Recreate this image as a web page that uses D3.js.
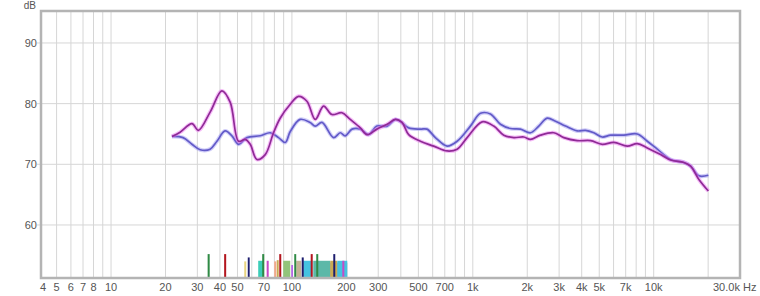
<!DOCTYPE html>
<html>
<head>
<meta charset="utf-8">
<script src="https://cdn.jsdelivr.net/npm/d3@7"></script>
<style>
  body { margin: 0; background: #fff; }
  text { font-family: "Liberation Sans", Arial, sans-serif; fill: #555; }
</style>
</head>
<body>
<div class="chart"></div>
<script>

// DATA ------------------------------

// frequency response, purple curve (Hz, dB)
const purpleFreq = [21.7, 24.1, 28.0, 30.4, 35.3, 41.0, 45.6, 50.7, 55.1, 58.8, 64.0, 71.2, 79.1, 86.1, 97.9,
  108.8, 121, 134.6, 149.6, 166.4, 189, 210, 239, 260, 295, 336, 373, 406, 442, 513, 608, 721, 819, 930,
  1126, 1305, 1483, 1684, 1913, 2084, 2366, 2804, 3184, 3778, 4477, 5195, 6025, 7145, 8110, 9218,
  10914, 12400, 14690, 16000, 17780, 20050];
const purpleDb = [74.6, 75.3, 76.7, 75.6, 78.6, 82.1, 80.2, 73.8, 74.1, 73.3, 70.8, 71.6, 75.2, 77.6, 79.9,
  81.2, 80.4, 77.4, 79.6, 78.2, 78.5, 77.4, 76.0, 74.9, 75.8, 76.6, 77.4, 76.9, 74.9, 73.8, 73.0, 72.2, 72.5, 74.4,
  77.0, 76.3, 74.8, 74.4, 74.5, 74.1, 74.8, 75.2, 74.4, 73.9, 73.9, 73.3, 73.6, 73.0, 73.4, 72.7,
  71.6, 70.7, 70.3, 69.7, 67.5, 65.6];

// frequency response, blue curve (Hz, dB)
const blueFreq = [21.7, 25.0, 28.0, 31.1, 35.3, 38.5, 42.7, 46.6, 50.7, 56.4, 66.8, 75.9, 84.3, 91.8, 97.9,
  111, 126, 134.6, 146.6, 170, 185, 197, 215, 239, 265, 295, 336, 373, 397, 442, 513, 558, 621, 721, 819,
  970, 1102, 1251, 1421, 1615, 1834, 2084, 2316, 2577, 2865, 3254, 3778, 4198, 4667, 5195, 5775, 6839,
  8110, 9218, 10470, 12400, 14690, 16000, 17780, 20050];
const blueDb = [74.6, 74.4, 73.3, 72.4, 72.5, 73.8, 75.5, 74.7, 73.3, 74.4, 74.7, 75.2, 74.4, 73.6, 75.4,
  77.4, 76.9, 76.3, 76.9, 74.4, 75.2, 74.7, 75.8, 75.8, 74.9, 76.3, 76.3, 77.4, 77.1, 76.0, 75.8, 75.8, 74.4, 73.0, 73.8,
  76.3, 78.4, 78.3, 76.6, 75.9, 75.8, 75.2, 76.3, 77.6, 77.1, 76.3, 75.5, 75.6, 75.2, 74.5, 74.8, 74.8,
  75.0, 73.8, 72.5, 70.8, 70.3, 69.7, 68.1, 68.2];

// room mode markers: start Hz, end Hz, top level dB, colour
const modeStart = [150, 131.2, 115.5, 89.5, 65.1, 162.9, 178.2, 105.6, 54.5, 57.0, 68.5, 72.5, 79.8, 82.4, 85.1,
  99.1, 103, 113.3, 127, 136.3, 169.3, 189.9, 34.2, 42.2];
const modeEnd   = [202.3, 162.9, 129.5, 97.9, 69.4, 178.2, 202.3, 112.6, 55.9, 58.4, 70.3, 74.4, 81.9, 84.5, 87.3,
  101, 105.6, 116.2, 130.3, 139.8, 173.6, 194.8, 35.1, 43.3];
const modeTop   = [53.8, 54.1, 54.1, 54.1, 54.1, 54.1, 54.1, 54.1, 54.0, 54.65, 55.2, 54.1, 54.0, 54.2, 55.2,
  53.4, 55.2, 54.65, 55.2, 55.2, 55.2, 54.1, 55.2, 55.2];
const modeColor = ["#a3a3a3", "#5cb8a8", "#45c3e0", "#92c47a", "#3ccdb8", "#c9ab55", "#45c3e0", "#c4b396", "#e8d480", "#1d1d6e",
  "#2f8a45", "#c64bc6", "#f2a88a", "#c9ab55", "#b3161e", "#b466e6", "#2f8a45", "#1d1d6e", "#b3161e", "#2f8a45",
  "#1d1d6e", "#c64bc6", "#2f8a45", "#b3161e"];

// tick labels
const yTicks = [60, 70, 80, 90];
const xGrid = [5, 6, 7, 8, 9, 10, 20, 30, 40, 50, 60, 70, 80, 90, 100, 200, 300, 400, 500, 600, 700, 800, 900,
  1000, 2000, 3000, 4000, 5000, 6000, 7000, 8000, 9000, 10000, 20000];
const xLabels = [4, 5, 6, 7, 8, 10, 20, 30, 40, 50, 70, 100, 200, 300, 500, 700, 1000, 2000, 3000, 4000, 5000, 7000, 10000];

// CHART INIT ------------------------------

const width = 760, height = 296;
const plotLeft = 41, plotRight = 740, plotTop = 11, plotBottom = 278;

const svg = d3.select(".chart").append("svg")
  .attr("width", width)
  .attr("height", height);

const xScale = d3.scaleLog()
  .domain([4.1, 30000])
  .range([plotLeft, plotRight]);

const yScale = d3.scaleLinear()
  .domain([51.26, 95.27])
  .range([plotBottom, plotTop]);

// grid
svg.append("g")
  .selectAll("line")
  .data(xGrid)
  .join("line")
  .attr("x1", d => xScale(d)).attr("x2", d => xScale(d))
  .attr("y1", plotTop).attr("y2", plotBottom)
  .attr("stroke", "#d6d6d6")
  .attr("stroke-width", 1);

svg.append("g")
  .selectAll("line")
  .data(yTicks)
  .join("line")
  .attr("x1", plotLeft - 4).attr("x2", plotRight)
  .attr("y1", d => yScale(d)).attr("y2", d => yScale(d))
  .attr("stroke", "#d6d6d6")
  .attr("stroke-width", 1);

// mode markers
svg.append("g")
  .selectAll("rect")
  .data(modeStart)
  .join("rect")
  .attr("x", (d, i) => xScale(d))
  .attr("width", (d, i) => Math.max(1.8, xScale(modeEnd[i]) - xScale(d)))
  .attr("y", (d, i) => yScale(modeTop[i]))
  .attr("height", (d, i) => plotBottom - yScale(modeTop[i]))
  .attr("fill", (d, i) => modeColor[i]);

// frame
svg.append("rect")
  .attr("x", plotLeft).attr("y", plotTop)
  .attr("width", plotRight - plotLeft).attr("height", plotBottom - plotTop)
  .attr("fill", "none")
  .attr("stroke", "#b4b4b4")
  .attr("stroke-width", 2.5);

// axis labels
svg.append("g")
  .selectAll("text")
  .data(yTicks)
  .join("text")
  .attr("x", 37)
  .attr("y", d => yScale(d) + 4)
  .attr("text-anchor", "end")
  .attr("font-size", 11)
  .text(d => d);

svg.append("text")
  .attr("x", 36).attr("y", 9)
  .attr("text-anchor", "end")
  .attr("font-size", 10)
  .text("dB");

const fmt = d => d >= 1000 ? (d / 1000) + "k" : d;
svg.append("g")
  .selectAll("text")
  .data(xLabels)
  .join("text")
  .attr("x", d => Math.max(43, xScale(d)))
  .attr("y", 291)
  .attr("text-anchor", "middle")
  .attr("font-size", 11)
  .text(fmt);

svg.append("text")
  .attr("x", xScale(30000) - 27)
  .attr("y", 291)
  .attr("font-size", 11)
  .text("30.0k Hz");

// curves
const path = d3.line()
  .x(d => xScale(d[0]))
  .y(d => yScale(d[1]))
  .curve(d3.curveCatmullRom.alpha(0.5));

const blue = blueFreq.map((f, i) => [f, blueDb[i]]);
const purple = purpleFreq.map((f, i) => [f, purpleDb[i]]);

[[blue, "#9a92f0", "#625ac8"], [purple, "#ec6cf0", "#8f2a96"]].forEach(([data, halo, core]) => {
  svg.append("path")
    .attr("d", path(data))
    .attr("fill", "none")
    .attr("stroke", halo)
    .attr("stroke-opacity", 0.45)
    .attr("stroke-width", 4);
  svg.append("path")
    .attr("d", path(data))
    .attr("fill", "none")
    .attr("stroke", core)
    .attr("stroke-width", 1.7);
});

</script>
</body>
</html>
